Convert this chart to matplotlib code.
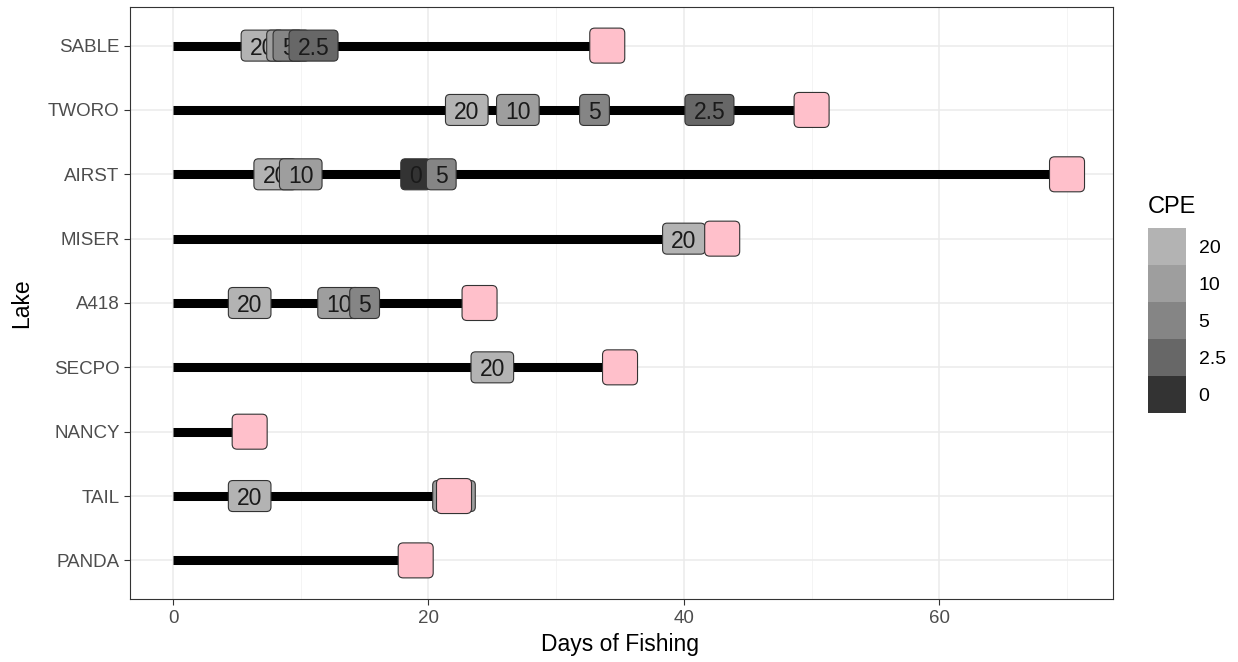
import matplotlib
matplotlib.use("Agg")
import matplotlib.pyplot as plt
import numpy as np
from matplotlib.patches import FancyBboxPatch

plt.rcParams.update({
    "font.family": ["Liberation Sans", "DejaVu Sans"],
    "figure.dpi": 100,
})

# ---------------------------------------------------------------------------
# Data
# ---------------------------------------------------------------------------
lakes = ["PANDA", "TAIL", "NANCY", "SECPO", "A418", "MISER", "AIRST", "TWORO", "SABLE"]
end_days = [19, 22, 6, 35, 24, 43, 70, 50, 34]

# CPE labels along each lake line, in drawing order
lab_lake = ["SABLE", "SABLE", "SABLE", "SABLE",
            "TWORO", "TWORO", "TWORO", "TWORO",
            "AIRST", "AIRST", "AIRST", "AIRST",
            "MISER",
            "A418", "A418", "A418",
            "SECPO",
            "TAIL", "TAIL"]
lab_day = [7, 9, 9, 11,
           23, 27, 33, 42,
           8, 10, 19, 21,
           40,
           6, 13, 15,
           25,
           6, 22]
lab_cpe = ["20", "10", "5", "2.5",
           "20", "10", "5", "2.5",
           "20", "10", "0", "5",
           "20",
           "20", "10", "5",
           "20",
           "20", "10"]

cpe_levels = ["20", "10", "5", "2.5", "0"]
cpe_colors = {"20": "#b3b3b3", "10": "#9e9e9e", "5": "#858585",
              "2.5": "#676767", "0": "#333333"}

# ---------------------------------------------------------------------------
# Figure
# ---------------------------------------------------------------------------
W, H = 1238, 662
fig = plt.figure(figsize=(W / 100, H / 100), dpi=100)
ax_l, ax_r, ax_t, ax_b = 130, 1113, 7, 599
ax = fig.add_axes([ax_l / W, 1 - ax_b / H, (ax_r - ax_l) / W, (ax_b - ax_t) / H])

xlim = (-3.37, 73.6)
ylim = (0.4, 9.6)
ax.set_xlim(*xlim)
ax.set_ylim(*ylim)
px_x = (ax_r - ax_l) / (xlim[1] - xlim[0])
px_y = (ax_b - ax_t) / (ylim[1] - ylim[0])
aspect = px_x / px_y

ypos = {name: i + 1 for i, name in enumerate(lakes)}

# grid (theme_bw)
for v in [10, 30, 50, 70]:
    ax.axvline(v, color="#f2f2f2", lw=0.6, zorder=0)
for v in [0, 20, 40, 60]:
    ax.axvline(v, color="#ebebeb", lw=1.1, zorder=0)
for v in range(1, len(lakes) + 1):
    ax.axhline(v, color="#ebebeb", lw=1.1, zorder=0)

# fishing period lines
for name, d in zip(lakes, end_days):
    ax.plot([0, d], [ypos[name], ypos[name]], color="black", lw=6.5,
            solid_capstyle="butt", zorder=2)

# CPE labels
char_px = {".": 6.4}
for k, (name, d, c) in enumerate(zip(lab_lake, lab_day, lab_cpe)):
    w_px = 17 + sum(char_px.get(ch, 12.8) for ch in c)
    w = w_px / px_x
    h = 31 / px_y
    y = ypos[name]
    box = FancyBboxPatch((d - w / 2, y - h / 2), w, h,
                         boxstyle="round,pad=0,rounding_size=%.3f" % (4.5 / px_x),
                         mutation_aspect=aspect,
                         fc=cpe_colors[c], ec="#333333", lw=0.8,
                         zorder=3 + 2 * k)
    ax.add_patch(box)
    ax.text(d, y, c, ha="center", va="center_baseline", fontsize=16.5,
            color="#1a1a1a", zorder=4 + 2 * k)

# end-of-fishing pink squares
sq_w = 35 / px_x
sq_h = 35 / px_y
for name, d in zip(lakes, end_days):
    y = ypos[name]
    sq = FancyBboxPatch((d - sq_w / 2, y - sq_h / 2), sq_w, sq_h,
                        boxstyle="round,pad=0,rounding_size=%.3f" % (5 / px_x),
                        mutation_aspect=aspect,
                        fc="pink", ec="#333333", lw=0.8, zorder=100)
    ax.add_patch(sq)

# axes cosmetics
ax.set_yticks(range(1, len(lakes) + 1))
ax.set_yticklabels(lakes)
ax.set_xticks([0, 20, 40, 60])
ax.tick_params(axis="both", labelsize=13.5, labelcolor="#4d4d4d", color="#333333",
               length=4, width=0.8)
ax.tick_params(axis="y", pad=3.5)
ax.tick_params(axis="x", pad=4)
for s in ax.spines.values():
    s.set_color("#333333")
    s.set_linewidth(0.8)
ax.set_xlabel("Days of Fishing", fontsize=16.5, va="center")
ax.set_ylabel("Lake", fontsize=16.5, va="center")
ax.xaxis.set_label_coords((620 - ax_l) / (ax_r - ax_l), -(645 - ax_b) / (ax_b - ax_t))
ax.yaxis.set_label_coords(-(ax_l - 22) / (ax_r - ax_l), 0.5)

# legend (discrete CPE fill keys)
lx, lw_, ly0, ly1 = 1148, 38, 228, 413
lax = fig.add_axes([lx / W, 1 - ly1 / H, lw_ / W, (ly1 - ly0) / H])
n = len(cpe_levels)
for i, c in enumerate(cpe_levels):
    lax.bar(0, 1, bottom=n - 1 - i, width=1, color=cpe_colors[c], align="edge")
lax.set_xlim(0, 1)
lax.set_ylim(0, n)
lax.set_xticks([])
lax.yaxis.tick_right()
lax.set_yticks([n - 0.5 - i for i in range(n)])
lax.set_yticklabels(cpe_levels)
lax.tick_params(axis="y", length=0, labelsize=14, pad=9, colors="black")
for s in lax.spines.values():
    s.set_visible(False)
fig.text(lx / W, 1 - 207 / H, "CPE", fontsize=17, va="center", ha="left")

fig.savefig("out.png", dpi=100)
